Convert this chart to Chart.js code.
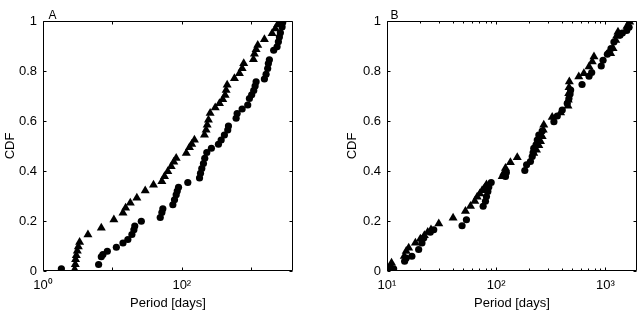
<!DOCTYPE html>
<html><head><meta charset="utf-8">
<script src="https://cdn.jsdelivr.net/npm/chart.js@4.4.1/dist/chart.umd.min.js"></script>
<style>
html,body{margin:0;padding:0;background:#fff;width:643px;height:312px;overflow:hidden}
#a{position:absolute;left:0;top:0}
#b{position:absolute;left:320px;top:0}
</style></head><body>
<canvas id="a" width="320" height="312"></canvas>
<canvas id="b" width="323" height="312"></canvas>
<script>
// ---------- data ----------
const yTicks = [0, 0.2, 0.4, 0.6, 0.8, 1];
const yTickLabels = ['0', '0.2', '0.4', '0.6', '0.8', '1'];

const xTicksA = [1, 10, 100, 1000];
const xTickLabelsA = ['10⁰', '', '10²', ''];
const xTicksB = [10, 100, 1000];
const xTickLabelsB = ['10¹', '10²', '10³'];
const xMinorB = [20, 30, 40, 50, 60, 70, 80, 90, 200, 300, 400, 500, 600, 700, 800, 900];

// Panel A, circles
const periodA_circ = [1.84, 6.33, 6.92, 7.3, 8.45, 11.4, 14.2, 16.7, 19.1, 20.4, 21, 26.1,
  48.9, 51.6, 53.3, 74.3, 78.5, 83, 86, 89.7,
  122, 180, 186, 194, 205, 214, 229, 267,
  337, 369, 411, 459, 470,
  606, 627, 740, 891, 942, 1016, 1087, 1138, 1176,
  1549, 1638, 1727, 1767, 1827,
  2108, 2358, 2463, 2546, 2632, 2785, 2839];
const cdfA_circ = [0.009, 0.026, 0.057, 0.066, 0.079, 0.095, 0.112, 0.126, 0.146, 0.165, 0.18, 0.199,
  0.214, 0.234, 0.249, 0.265, 0.285, 0.305, 0.32, 0.335,
  0.354, 0.372, 0.391, 0.41, 0.43, 0.451, 0.474, 0.491,
  0.507, 0.524, 0.544, 0.564, 0.58,
  0.611, 0.63, 0.648, 0.664, 0.69, 0.705, 0.722, 0.74, 0.757,
  0.768, 0.787, 0.81, 0.83, 0.845,
  0.883, 0.897, 0.917, 0.936, 0.953, 0.976, 0.994];

// Panel A, triangles
const periodA_tri = [2.86, 2.92, 2.95, 3.02, 3.12, 3.23, 3.37,
  4.44, 6.92, 10.5, 14.2, 15.5, 18.1, 22.5, 29.7, 39.1,
  51.6, 56.4, 62.9, 70.3, 76.7, 83,
  116, 129, 139, 152,
  212, 224, 232, 242, 256,
  303, 349, 389, 421, 435, 450,
  573, 676, 740, 780,
  1076, 1112, 1176, 1242,
  1549, 2000, 2229, 2405, 2650];
const cdfA_tri = [0.006, 0.026, 0.046, 0.062, 0.08, 0.097, 0.115,
  0.145, 0.172, 0.205, 0.232, 0.252, 0.272, 0.292, 0.321, 0.344,
  0.358, 0.378, 0.398, 0.418, 0.436, 0.451,
  0.471, 0.494, 0.507, 0.524,
  0.544, 0.564, 0.584, 0.604, 0.631,
  0.653, 0.67, 0.686, 0.703, 0.723, 0.744,
  0.77, 0.79, 0.81, 0.83,
  0.846, 0.868, 0.886, 0.903,
  0.926, 0.95, 0.969, 0.986, 1.0];

// Panel B, circles
const periodB_circ = [11.5, 14.5, 15.0, 16.9, 19.5, 20.9, 21.7, 24.9, 26.8,
  48.7, 53.4, 76, 79.8, 81.5, 83.9, 85.6, 90,
  121.7, 124, 183, 190, 206, 214, 218, 221, 232, 238, 246, 264,
  338, 363, 403, 448, 464, 475, 481,
  612, 709, 750, 917, 953, 1044, 1080, 1127, 1199,
  1361, 1432, 1570, 1650];
const cdfB_circ = [0.009, 0.039, 0.052, 0.059, 0.086, 0.112, 0.132, 0.155, 0.165,
  0.181, 0.205, 0.259, 0.279, 0.298, 0.318, 0.336, 0.354,
  0.378, 0.394, 0.402, 0.425, 0.438, 0.458, 0.474, 0.491, 0.505, 0.524, 0.544, 0.56,
  0.597, 0.62, 0.644, 0.67, 0.69, 0.708, 0.724,
  0.746, 0.779, 0.794, 0.82, 0.843, 0.867, 0.874, 0.89, 0.916,
  0.943, 0.952, 0.962, 0.975];

// Panel B, triangles
const periodB_tri = [10.5, 10.8, 11.0,
  14.4, 15.0, 15.8, 18.2, 20.2, 22.0, 23.6, 25.3, 29.8,
  40.3, 52.3, 58.2, 63.7, 67, 70.8, 74.4, 78.2, 81.5,
  113.5, 117.5, 121.7, 135, 156,
  221, 234, 246, 255, 264, 270, 273,
  326, 389,
  455, 458, 462, 465, 468,
  571, 636, 709, 759, 787,
  1119, 1177, 1245, 1270, 1306,
  1580, 1671];
const cdfB_tri = [0.01, 0.02, 0.032,
  0.059, 0.079, 0.092, 0.112, 0.128, 0.142, 0.155, 0.165, 0.189,
  0.212, 0.239, 0.259, 0.279, 0.296, 0.309, 0.322, 0.332, 0.345,
  0.378, 0.392, 0.411, 0.434, 0.454,
  0.471, 0.484, 0.502, 0.518, 0.538, 0.564, 0.584,
  0.615, 0.633,
  0.66, 0.684, 0.71, 0.734, 0.757,
  0.777, 0.79, 0.817, 0.837, 0.857,
  0.87, 0.89, 0.923, 0.94, 0.956,
  0.979, 0.996];

// ---------- drawing ----------
const FONT = {family: '"Liberation Sans", Arial, Helvetica, sans-serif', size: 13};
const toPts = (xs, ys) => xs.map((x, i) => ({x, y: ys[i]}));

const boxTicks = {
  id: 'boxTicks',
  afterDatasetsDraw(chart, args, o) {
    const {ctx, chartArea: {left, right, top, bottom}, scales: {x, y}} = chart;
    ctx.save();
    ctx.strokeStyle = '#000';
    ctx.lineWidth = 1;
    const L = Math.round(left) + 0.5, R = Math.round(right) - 0.5;
    const T = Math.round(top) + 0.5, B = Math.round(bottom) - 0.5;
    ctx.beginPath();
    ctx.rect(L, T, R - L, B - T);
    const maj = 3, min = 2;
    o.yMajor.forEach(v => {
      const p = Math.round(y.getPixelForValue(v)) + 0.5;
      ctx.moveTo(L, p); ctx.lineTo(L + maj, p);
      ctx.moveTo(R, p); ctx.lineTo(R - maj, p);
    });
    o.xMajor.forEach(v => {
      const p = Math.round(x.getPixelForValue(v)) + 0.5;
      ctx.moveTo(p, B); ctx.lineTo(p, B - maj);
      ctx.moveTo(p, T); ctx.lineTo(p, T + maj);
    });
    (o.xMinor || []).forEach(v => {
      const p = Math.round(x.getPixelForValue(v)) + 0.5;
      ctx.moveTo(p, B); ctx.lineTo(p, B - min);
      ctx.moveTo(p, T); ctx.lineTo(p, T + min);
    });
    ctx.stroke();
    ctx.fillStyle = '#000';
    ctx.font = '12px ' + FONT.family;
    ctx.textBaseline = 'alphabetic';
    ctx.fillText(o.letter, L + o.letterDx, T - 3);
    ctx.restore();
  }
};

function makeChart(id, cfg) {
  const tickMap = new Map(cfg.xTicks.map((v, i) => [v, cfg.xLabels[i]]));
  return new Chart(document.getElementById(id), {
    type: 'scatter',
    data: {
      datasets: [
        {data: toPts(cfg.circP, cfg.circC), pointStyle: 'circle', pointRadius: 3.6,
         backgroundColor: '#000', borderColor: '#000', borderWidth: 0},
        {data: toPts(cfg.triP, cfg.triC), pointStyle: 'triangle', pointRadius: 5.2,
         backgroundColor: '#000', borderColor: '#000', borderWidth: 0}
      ]
    },
    options: {
      responsive: false, animation: false, devicePixelRatio: 1,
      layout: {padding: {top: 21, right: cfg.padRight, left: 0, bottom: 0}},
      plugins: {legend: {display: false}, tooltip: {enabled: false},
        boxTicks: {xMajor: cfg.xTicks, xMinor: cfg.xMinor, yMajor: yTicks,
                   letter: cfg.letter, letterDx: cfg.letterDx}},
      scales: {
        x: {
          type: 'logarithmic', min: cfg.xMin, max: cfg.xMax,
          grid: {display: false, drawTicks: false}, border: {display: false},
          afterBuildTicks: s => { s.ticks = cfg.xTicks.map(v => ({value: v})); },
          afterFit: s => { s.height = 41; },
          ticks: {autoSkip: false, maxRotation: 0, padding: 7, color: '#000', font: FONT,
                  callback: v => tickMap.has(v) ? tickMap.get(v) : ''},
          title: {display: true, text: 'Period [days]', color: '#000', font: FONT,
                  padding: {top: 0, bottom: 1}}
        },
        y: {
          min: 0, max: 1,
          grid: {display: false, drawTicks: false}, border: {display: false},
          afterBuildTicks: s => { s.ticks = yTicks.map(v => ({value: v})); },
          afterFit: s => { s.width = cfg.yWidth; },
          ticks: {autoSkip: false, padding: 6, color: '#000', font: FONT,
                  callback: v => yTickLabels[yTicks.indexOf(v)] ?? ''},
          title: {display: true, text: 'CDF', color: '#000', font: FONT,
                  padding: {top: cfg.yTitlePad, bottom: 0}}
        }
      }
    },
    plugins: [boxTicks]
  });
}

makeChart('a', {circP: periodA_circ, circC: cdfA_circ, triP: periodA_tri, triC: cdfA_tri,
  xTicks: xTicksA, xLabels: xTickLabelsA, xMinor: [], xMin: 1, xMax: 4000,
  padRight: 27, yWidth: 43, yTitlePad: 3, letter: 'A', letterDx: 5});
makeChart('b', {circP: periodB_circ, circC: cdfB_circ, triP: periodB_tri, triC: cdfB_tri,
  xTicks: xTicksB, xLabels: xTickLabelsB, xMinor: xMinorB, xMin: 10, xMax: 1950,
  padRight: 6, yWidth: 67, yTitlePad: 25, letter: 'B', letterDx: 3});
</script>
</body></html>
